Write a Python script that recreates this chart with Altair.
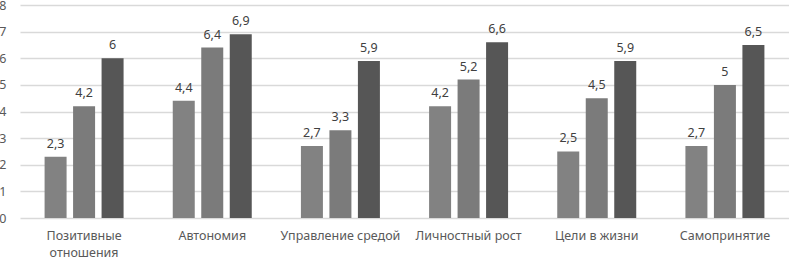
import altair as alt
import pandas as pd

categories = ["Позитивные отношения", "Автономия", "Управление средой",
              "Личностный рост", "Цели в жизни", "Самопринятие"]
series = ["Ряд 1", "Ряд 2", "Ряд 3"]
values_1 = [2.3, 4.4, 2.7, 4.2, 2.5, 2.7]
values_2 = [4.2, 6.4, 3.3, 5.2, 4.5, 5.0]
values_3 = [6.0, 6.9, 5.9, 6.6, 5.9, 6.5]
y_ticks = [0, 1, 2, 3, 4, 5, 6, 7, 8]
colors = ["#828282", "#7b7b7b", "#565656"]

rows = []
for s, vals in zip(series, [values_1, values_2, values_3]):
    for c, v in zip(categories, vals):
        lab = (f"{v:g}").replace(".", ",")
        rows.append({"cat": c, "series": s, "value": v, "label": lab})
df = pd.DataFrame(rows)

FONT = "Noto Sans"

x = alt.X("cat:N", sort=categories, title=None,
          scale=alt.Scale(paddingInner=0.333, paddingOuter=0.1665),
          axis=alt.Axis(labelAngle=0, domain=False, ticks=False, labelPadding=11,
                        labelFont=FONT, labelFontSize=12.5, labelColor="#595959",
                        labelLineHeight=17, labelLimit=200,
                        labelExpr="datum.label == 'Позитивные отношения' ? split(datum.label, ' ') : datum.label"))
xo = alt.XOffset("series:N", sort=series,
                 scale=alt.Scale(paddingInner=0.228, paddingOuter=0.114))
y = alt.Y("value:Q", title=None,
          scale=alt.Scale(domain=[0, 8], nice=False),
          axis=alt.Axis(values=y_ticks, labelOverlap=False,
                        domain=False, ticks=False,
                        labelPadding=14, labelFont=FONT, labelFontSize=12.5,
                        labelColor="#595959", gridColor="#d9d9d9", gridWidth=1.5))

bars = alt.Chart(df).mark_bar().encode(
    x=x, xOffset=xo, y=y,
    color=alt.Color("series:N", sort=series,
                    scale=alt.Scale(domain=series, range=colors), legend=None),
)
text = alt.Chart(df).mark_text(baseline="bottom", dy=-6, font=FONT, fontSize=12.5,
                               color="#404040").encode(
    x=x, xOffset=xo, y=y, text="label:N")

chart = (bars + text).properties(
    width=769, height=213,
    autosize=alt.AutoSizeParams(type="none"),
    padding={"left": 20, "top": 5, "right": 0, "bottom": 43},
    background="white",
).configure_view(stroke=None)

chart.save("out.html", embed_options={"renderer": "svg", "actions": False})
